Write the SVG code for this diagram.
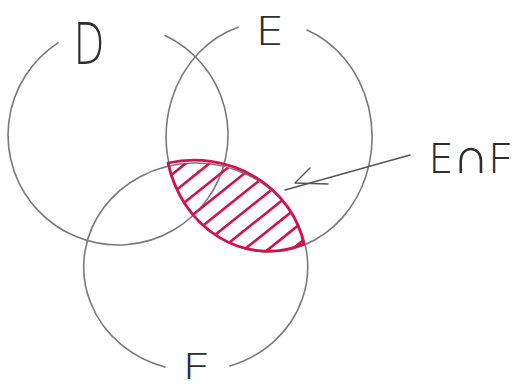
<svg xmlns="http://www.w3.org/2000/svg" width="518" height="391" viewBox="0 0 518 391">
  <style>
    .circle { fill: none; stroke: #7a7a7a; stroke-width: 1.6; stroke-linecap: round; }
    .label { font-family: "Open Sans", "Liberation Sans", sans-serif; font-weight: 300; fill: #2e2e2e; }
    .hatch { stroke: #d3124f; stroke-width: 2.6; stroke-linecap: round; }
    .lens { fill: none; stroke: #d3124f; stroke-width: 2.8; stroke-linejoin: round; }
    .arrow { fill: none; stroke: #555; stroke-width: 1.4; stroke-linecap: round; stroke-linejoin: round; }
  </style>
  <defs>
    <clipPath id="clipE"><ellipse cx="269" cy="137" rx="103" ry="115"/></clipPath>
    <clipPath id="clipF"><ellipse cx="195" cy="267" rx="112" ry="104"/></clipPath>
  </defs>
  <rect width="518" height="391" fill="#ffffff"/>

  <g id="node-D">
    <path class="circle" d="M165,35.5 A110,110 0 1 1 58,42.8"/>
    <text class="label" x="74" y="64" font-size="58" textLength="30" lengthAdjust="spacingAndGlyphs">D</text>
  </g>

  <g id="node-E">
    <path class="circle" d="M307,30 A103,115 0 1 1 238,27.3"/>
    <text class="label" x="256" y="45" font-size="40" textLength="27" lengthAdjust="spacingAndGlyphs">E</text>
  </g>

  <g id="node-F">
    <path class="circle" d="M165,367 A112,104 0 1 1 230,366"/>
    <text class="label" x="183" y="379" font-size="36" textLength="24" lengthAdjust="spacingAndGlyphs">F</text>
  </g>

  <g id="region-EF">
    <g clip-path="url(#clipE)">
      <g clip-path="url(#clipF)">
        <line class="hatch" x1="150" y1="192" x2="320" y2="56"/>
        <line class="hatch" x1="150" y1="211" x2="320" y2="75"/>
        <line class="hatch" x1="150" y1="230" x2="320" y2="94"/>
        <line class="hatch" x1="150" y1="249" x2="320" y2="113"/>
        <line class="hatch" x1="150" y1="268" x2="320" y2="132"/>
        <line class="hatch" x1="150" y1="287" x2="320" y2="151"/>
        <line class="hatch" x1="150" y1="306" x2="320" y2="170"/>
        <line class="hatch" x1="150" y1="325" x2="320" y2="189"/>
        <line class="hatch" x1="150" y1="344" x2="320" y2="208"/>
        <line class="hatch" x1="150" y1="363" x2="320" y2="227"/>
      </g>
    </g>
    <path class="lens" d="M168,163 A103,115 0 0 0 304,244 A112,104 0 0 0 168,163 Z"/>
  </g>

  <g id="connectors">
    <path class="arrow" d="M285,190 L410,155"/>
    <path class="arrow" d="M310,168 L295,183 L328,184"/>
  </g>

  <g id="label-EF">
    <text class="label" x="429" y="173" font-size="42" textLength="81" lengthAdjust="spacingAndGlyphs">E<tspan font-size="50">∩</tspan>F</text>
  </g>
</svg>
